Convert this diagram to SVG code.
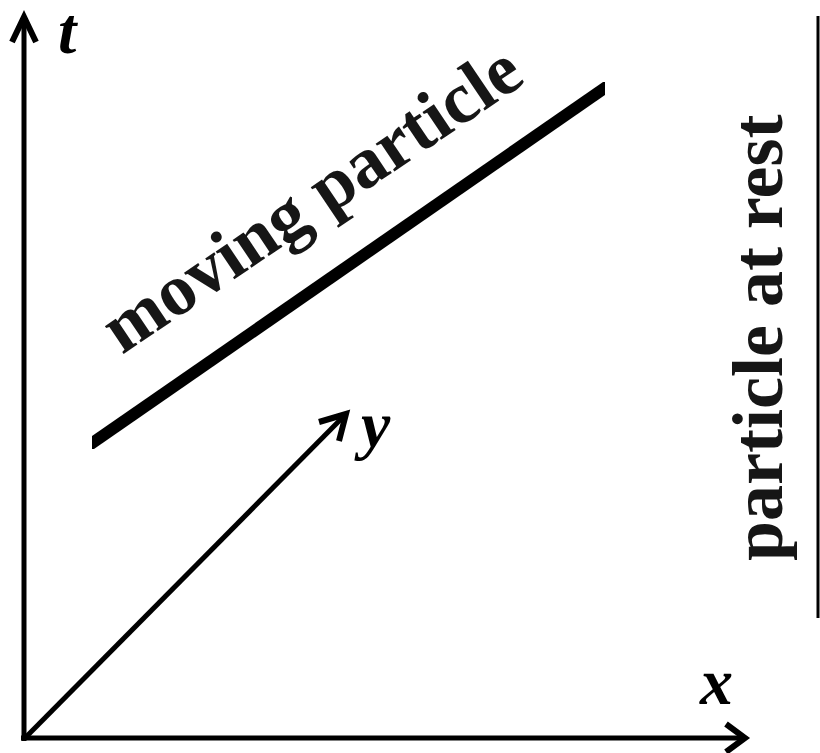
<svg xmlns="http://www.w3.org/2000/svg" width="820" height="753" viewBox="0 0 820 753">
<style>
.ax{stroke:#000;stroke-width:5;fill:none}
.hd{stroke:#000;stroke-width:6;fill:none;stroke-linejoin:miter;stroke-miterlimit:10}
.lbl{font-family:"Liberation Serif","Times New Roman",serif;font-weight:bold;font-style:italic;font-size:66px;fill:#000}
.txt{font-family:"Liberation Serif","Times New Roman",serif;font-weight:bold;fill:#161616}
</style>
<rect width="820" height="753" fill="#fff"/>
<g id="connectors">
  <g id="t-axis">
    <line class="ax" x1="24" y1="741" x2="24" y2="17"/>
    <polyline class="hd" points="12,42 24,17 36,42"/>
  </g>
  <g id="x-axis">
    <line class="ax" x1="21" y1="738" x2="744" y2="738"/>
    <polyline class="hd" points="726,724 745,738 726,752"/>
  </g>
  <g id="y-axis">
    <line class="ax" x1="25" y1="738" x2="345" y2="415"/>
    <polyline class="hd" points="319,422 346,414 339,441"/>
  </g>
</g>
<g id="label-t"><text class="lbl" x="58" y="53">t</text></g>
<g id="label-x"><text class="lbl" x="700" y="704">x</text></g>
<g id="label-y"><text class="lbl" x="361" y="447">y</text></g>
<g id="moving-particle">
  <polygon points="92,436 603,82 605,82 605,95 94,449 92,449" fill="#000"/>
  <text class="txt" x="122" y="355" font-size="73" transform="rotate(-34 122 355)">moving particle</text>
</g>
<g id="particle-at-rest">
  <line x1="818" y1="16" x2="818" y2="618" stroke="#000" stroke-width="3"/>
  <text class="txt" x="782" y="561" font-size="72" transform="rotate(-90 782 561)">particle at rest</text>
</g>
</svg>
